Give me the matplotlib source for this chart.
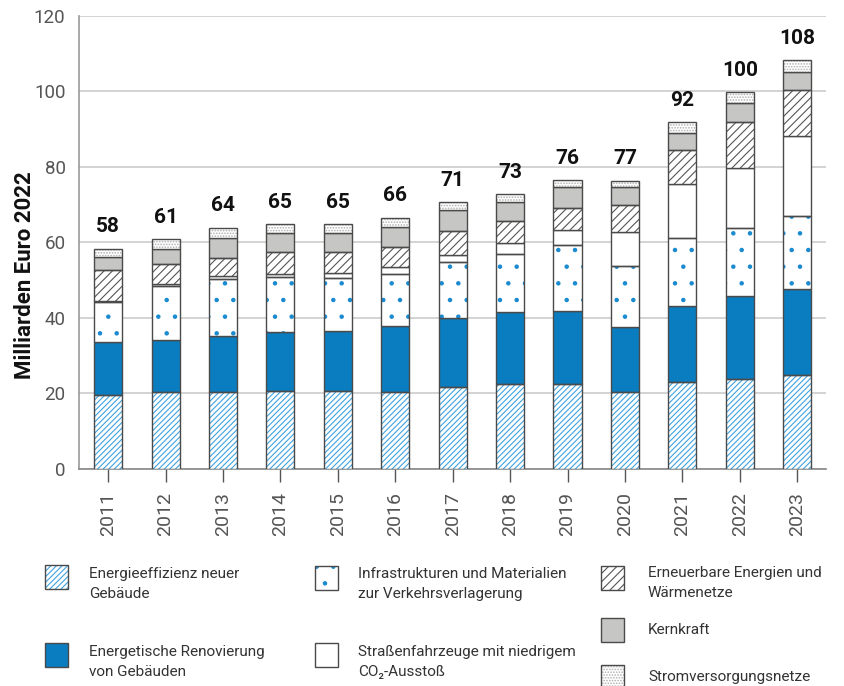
import matplotlib
matplotlib.use("Agg")
import matplotlib.pyplot as plt
import numpy as np
from matplotlib.patches import Rectangle

# values in Mrd Euro (2022)
years = ["2011", "2012", "2013", "2014", "2015", "2016", "2017",
         "2018", "2019", "2020", "2021", "2022", "2023"]
neubau = [19.4, 20.2, 20.4, 20.7, 20.5, 20.4, 21.5, 22.5, 22.3, 20.2, 22.9, 23.7, 24.8]
renovierung = [14.2, 14.0, 14.7, 15.6, 16.0, 17.4, 18.5, 19.0, 19.5, 17.3, 20.3, 22.1, 22.8]
infrastruktur = [10.6, 14.3, 15.1, 14.4, 14.0, 13.7, 14.6, 15.4, 17.5, 16.2, 17.9, 18.0, 19.4]
fahrzeuge = [0.3, 0.3, 0.9, 0.9, 1.4, 1.9, 2.1, 2.9, 3.9, 9.0, 14.2, 15.9, 21.2]
erneuerbare = [8.1, 5.5, 4.7, 5.7, 5.4, 5.4, 6.2, 5.8, 5.8, 7.0, 9.0, 12.0, 12.2]
kernkraft = [3.4, 4.0, 5.3, 5.1, 5.1, 5.2, 5.5, 5.1, 5.6, 4.8, 4.6, 5.0, 4.7]
stromnetze = [2.3, 2.5, 2.7, 2.3, 2.3, 2.4, 2.2, 2.0, 1.8, 1.8, 2.8, 3.0, 3.0]
totals = [58, 61, 64, 65, 65, 66, 71, 73, 76, 77, 92, 100, 108]

labels = ["Energieeffizienz neuer\nGebäude",
          "Energetische Renovierung\nvon Gebäuden",
          "Infrastrukturen und Materialien\nzur Verkehrsverlagerung",
          "Straßenfahrzeuge mit niedrigem\nCO₂-Ausstoß",
          "Erneuerbare Energien und\nWärmenetze",
          "Kernkraft",
          "Stromversorgungsnetze"]

BLUE = "#0a7dc0"
HATCHBLUE = "#3fa3e0"
EDGE = "#4a4a4a"
GREY = "#c6c6c4"

# (face, hatch, hatch colour)
styles = [
    ("white", "//////", HATCHBLUE),
    (BLUE, None, None),
    ("white", ".", "#1a8ad0"),
    ("white", None, None),
    ("white", "////", "#555555"),
    (GREY, None, None),
    ("white", "......", "#b0b0b0"),
]

plt.rcParams["font.family"] = ["Roboto", "DejaVu Sans"]
plt.rcParams["hatch.linewidth"] = 0.8

fig = plt.figure(figsize=(8.45, 6.86), dpi=100)
ax = fig.add_axes([0.094, 0.3168, 0.8835, 0.6606])

series = [neubau, renovierung, infrastruktur, fahrzeuge, erneuerbare, kernkraft, stromnetze]
x = np.arange(len(years))
w = 0.49
bottom = np.zeros(len(years))

for vals, (face, hatch, hcol) in zip(series, styles):
    vals = np.array(vals)
    if hatch:
        ax.bar(x, vals, w, bottom=bottom, color=face, edgecolor=hcol,
               hatch=hatch, linewidth=0, zorder=3)
        ax.bar(x, vals, w, bottom=bottom, fill=False, edgecolor=EDGE,
               linewidth=1.0, zorder=4)
    else:
        ax.bar(x, vals, w, bottom=bottom, color=face, edgecolor=EDGE,
               linewidth=1.0, zorder=3)
    bottom += vals

for xi, top, t in zip(x, bottom, totals):
    ax.annotate(str(t), (xi, top), xytext=(0, 9), textcoords="offset points",
                ha="center", va="bottom", fontsize=15, fontweight="bold",
                color="#111111")

ax.set_xlim(-0.5, 12.5)
ax.set_ylim(0, 120)
ax.set_yticks(range(0, 121, 20))
ax.set_xticks(x)
ax.set_xticklabels(years, rotation=90)
ax.tick_params(axis="y", length=0, pad=10, labelsize=13.5, labelcolor="#555555")
ax.tick_params(axis="x", length=9, width=1, color="#555555", pad=8,
               labelsize=14, labelcolor="#555555")
ax.grid(axis="y", color="#cccccc", linewidth=1.2, zorder=0)
ax.set_axisbelow(True)
for s in ["top", "right"]:
    ax.spines[s].set_visible(False)
ax.spines["left"].set_color("#999999")
ax.spines["bottom"].set_color("#888888")
ax.spines["left"].set_linewidth(1.2)
ax.spines["bottom"].set_linewidth(1.2)
ax.set_ylabel("Milliarden Euro 2022", fontsize=16, fontweight="bold",
              color="#111111")
ax.yaxis.set_label_coords(-0.058, 0.428)

# legend built by hand, positions in figure pixels (from top-left)
# (patch x, patch centre y, text x, text centre y)
W, H = 845.0, 686.0
legend_pos = [
    (45, 577, 89, 584),    # neubau
    (45, 655, 89, 662),    # renovierung
    (315, 578, 358, 584),  # infrastruktur
    (315, 655, 358, 662),  # fahrzeuge
    (601, 578, 648, 583),  # erneuerbare
    (601, 630, 648, 630),  # kernkraft
    (601, 677, 648, 677),  # stromnetze
]
pw, ph = 23, 24
for (px, py, tx, ty), (face, hatch, hcol), lab in zip(legend_pos, styles, labels):
    rx, ry = px / W, 1 - (py + ph / 2) / H
    if hatch:
        fig.add_artist(Rectangle((rx, ry), pw / W, ph / H, transform=fig.transFigure,
                                 facecolor=face, edgecolor=hcol, hatch=hatch, linewidth=0))
        fig.add_artist(Rectangle((rx, ry), pw / W, ph / H, transform=fig.transFigure,
                                 fill=False, edgecolor=EDGE, linewidth=1.0))
    else:
        fig.add_artist(Rectangle((rx, ry), pw / W, ph / H, transform=fig.transFigure,
                                 facecolor=face, edgecolor=EDGE, linewidth=1.0))
    fig.text(tx / W, 1 - ty / H, lab, ha="left", va="center", fontsize=11,
             color="#333333", linespacing=1.6)

fig.savefig("out.png", dpi=100)
